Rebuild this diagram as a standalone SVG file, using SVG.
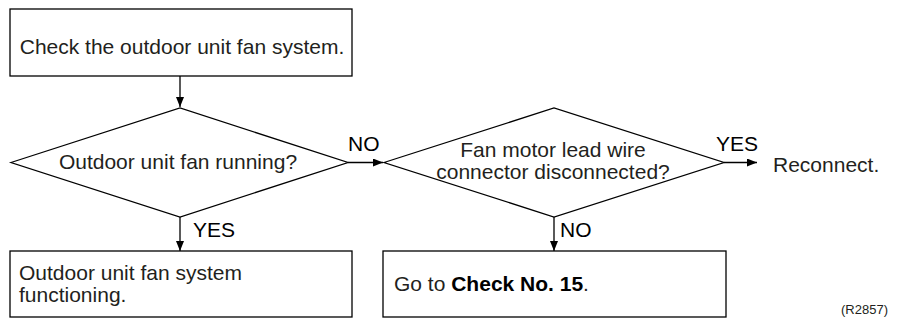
<svg xmlns="http://www.w3.org/2000/svg" width="920" height="320" viewBox="0 0 920 320">
<defs>
<marker id="ah" viewBox="0 0 10 8" refX="10" refY="4" markerWidth="10" markerHeight="8" markerUnits="userSpaceOnUse" orient="auto">
<path d="M0,0 L10,4 L0,8 Z" fill="#000"/>
</marker>
<style>
.shape{fill:#fff;stroke:#000;stroke-width:1.3}
.t{font-family:"Liberation Sans",Arial,sans-serif;font-size:21px;fill:#231f20}
.lbl{font-family:"Liberation Sans",Arial,sans-serif;font-size:21px;fill:#000}
.c{text-anchor:middle}
.edge{stroke:#000;stroke-width:1.3;fill:none;marker-end:url(#ah)}
.b{font-weight:bold;fill:#000}
</style>
</defs>
<rect width="920" height="320" fill="#fff"/>
<g id="connectors">
<line class="edge" x1="180" y1="76" x2="180" y2="107"/>
<line class="edge" x1="348" y1="162.5" x2="383" y2="162.5"/>
<line class="edge" x1="724" y1="162.5" x2="757" y2="162.5"/>
<line class="edge" x1="180" y1="217" x2="180" y2="251"/>
<line class="edge" x1="554" y1="217" x2="554" y2="251"/>
<text class="lbl" x="348" y="151">NO</text>
<text class="lbl" x="716" y="151">YES</text>
<text class="lbl" x="193" y="237">YES</text>
<text class="lbl" x="560" y="237">NO</text>
</g>
<g id="start">
<rect class="shape" x="10" y="9" width="342" height="67"/>
<text class="t c" x="182" y="54">Check the outdoor unit fan system.</text>
</g>
<g id="decision1">
<polygon class="shape" points="11,162.5 180,108 348,162.5 180,217"/>
<text class="t c" x="178" y="169">Outdoor unit fan running?</text>
</g>
<g id="decision2">
<polygon class="shape" points="384,162.5 554,108 724,162.5 554,217"/>
<text class="t c" x="553" y="157">Fan motor lead wire</text>
<text class="t c" x="553" y="179">connector disconnected?</text>
</g>
<g id="reconnect">
<text class="t" x="773" y="172">Reconnect.</text>
</g>
<g id="functioning">
<rect class="shape" x="10" y="251" width="342" height="66"/>
<text class="t" x="19" y="280">Outdoor unit fan system</text>
<text class="t" x="19" y="302">functioning.</text>
</g>
<g id="goto">
<rect class="shape" x="383" y="251" width="343" height="66"/>
<text class="t" x="394" y="291">Go to <tspan class="b">Check No. 15</tspan>.</text>
</g>
<text x="888" y="314" text-anchor="end" font-family="'Liberation Sans',Arial,sans-serif" font-size="13" fill="#231f20">(R2857)</text>
</svg>
